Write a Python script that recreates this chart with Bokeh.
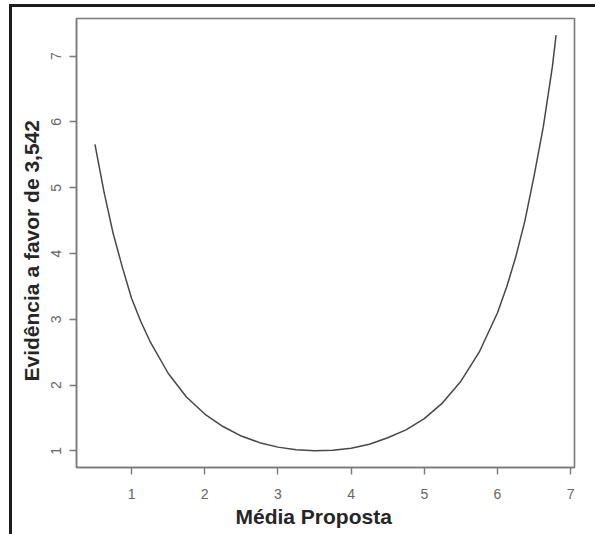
from bokeh.plotting import figure
from bokeh.models import Range1d, FixedTicker, Div, Title
from bokeh.layouts import column, row
from bokeh.embed import file_html
from bokeh.resources import INLINE

# Proposed mean (x) and evidence in favour of 3.542 (y)
media_proposta = [0.5, 0.625, 0.75, 0.875, 1.0, 1.125, 1.25, 1.5, 1.75, 2.0, 2.25, 2.5, 2.75,
                  3.0, 3.25, 3.5, 3.75, 4.0, 4.25, 4.5, 4.75, 5.0, 5.25, 5.5, 5.75,
                  6.0, 6.125, 6.25, 6.375, 6.5, 6.625, 6.75, 6.8]
evidencia = [5.66, 4.93, 4.30, 3.79, 3.32, 2.97, 2.67, 2.18, 1.82, 1.56, 1.37, 1.225, 1.125,
             1.057, 1.016, 1.0, 1.008, 1.04, 1.10, 1.20, 1.32, 1.49, 1.73, 2.06, 2.50,
             3.10, 3.49, 3.95, 4.50, 5.18, 5.92, 6.84, 7.32]

x_ticks = [1, 2, 3, 4, 5, 6, 7]
y_ticks = [1, 2, 3, 4, 5, 6, 7]

x_label = "Média Proposta"
y_label = "Evidência a favor de 3,542"

FONT = "Liberation Sans"
FRAME_DARK = "#1c1c1c"

xlo, xhi = min(media_proposta), max(media_proposta)
ylo, yhi = min(evidencia), max(evidencia)
xpad = 0.04 * (xhi - xlo)
ypad = 0.04 * (yhi - ylo)

fig = figure(
    output_backend="svg",
    toolbar_location=None,
    frame_width=498,
    frame_height=449,
    x_range=Range1d(xlo - xpad, xhi + xpad),
    y_range=Range1d(ylo - ypad, yhi + ypad),
    min_border_left=61,
    min_border_top=11,
    min_border_right=12,
    min_border_bottom=64,
    background_fill_color="white",
    border_fill_color="white",
)

fig.xgrid.visible = False
fig.ygrid.visible = False
fig.outline_line_color = "#7a7a7a"
fig.outline_line_width = 1.6

fig.line(media_proposta, evidencia, line_color="#474747", line_width=1.5)

for ax, ticks in ((fig.xaxis[0], x_ticks), (fig.yaxis[0], y_ticks)):
    ax.ticker = FixedTicker(ticks=ticks)
    ax.minor_tick_line_color = None
    ax.major_tick_in = 0
    ax.major_tick_out = 7
    ax.major_tick_line_color = "#7a7a7a"
    ax.major_tick_line_width = 1.4
    ax.axis_line_color = "#7a7a7a"
    ax.axis_line_width = 1.4
    ax.major_label_text_font = FONT
    ax.major_label_text_font_size = "14px"
    ax.major_label_text_color = "#666666"

fig.yaxis.major_label_orientation = "vertical"
fig.xaxis.major_label_standoff = 14
fig.yaxis.major_label_standoff = 8

# axis titles, placed slightly off-centre as in the original
label_style = dict(text_font=FONT, text_font_style="bold", text_font_size="21px",
                   text_color="#262626", align="left")
fig.add_layout(Title(text=x_label, offset=159, standoff=3, **label_style), "below")
fig.add_layout(Title(text=y_label, offset=86, standoff=11, **label_style), "left")

# dark top and left rules framing the original figure
top_rule = Div(text="", width=586, height=3, margin=(4, 0, 0, 9),
               styles={"background-color": FRAME_DARK})
left_rule = Div(text="", width=3, height=527, margin=(0, 0, 0, 9),
                styles={"background-color": FRAME_DARK})

p = column(top_rule, row(left_rule, fig, spacing=0), spacing=0)

open("out.html", "w").write(file_html(p, INLINE))
